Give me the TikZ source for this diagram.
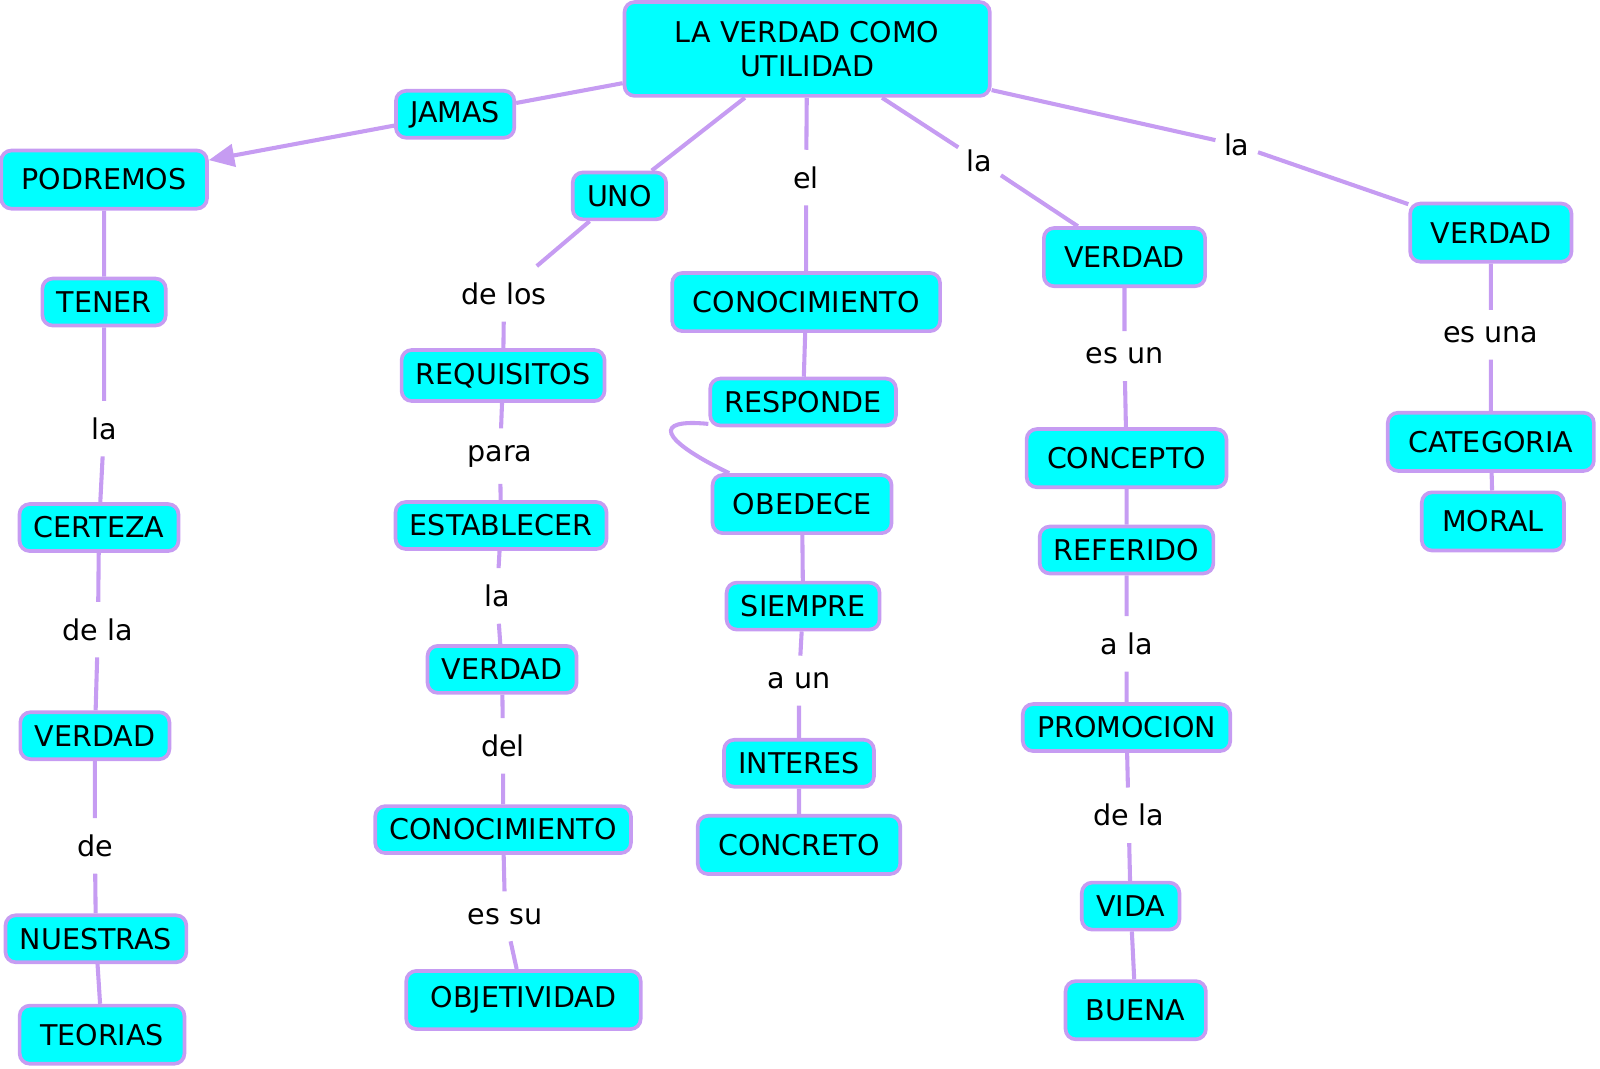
\documentclass[tikz,border=0pt]{standalone}
\usepackage{fontspec}
\setmainfont{DejaVu Sans}
\usetikzlibrary{arrows.meta}
\definecolor{lila}{HTML}{C69CF2}
\definecolor{cian}{HTML}{00FFFF}
\begin{document}
\begin{tikzpicture}[x=0.5pt,y=-0.5pt,
  concepto/.style={draw=lila,line width=1.8pt,fill=cian,rounded corners=5pt,inner xsep=7pt,inner ysep=2pt,minimum height=23pt,font=\fontsize{14}{17}\selectfont},
  alto/.style={minimum height=28.5pt,inner xsep=10pt},
  enlace/.style={inner xsep=4pt,inner ysep=8pt,font=\fontsize{14}{17}\selectfont},
  linea/.style={draw=lila,line width=2pt}]
\useasboundingbox (0,0) rectangle (1568,1047);
\node[concepto,minimum width=179pt,minimum height=46pt,align=center] (main) at (791,48) {LA VERDAD COMO\\UTILIDAD};
\node[concepto] (jamas) at (446,112) {JAMAS};
% columna 1
\node[concepto,alto] (podremos) at (102,176) {PODREMOS};
\node[concepto] (tener) at (102,296) {TENER};
\node[enlace] (la1) at (102,420) {la};
\node[concepto] (certeza) at (97,517) {CERTEZA};
\node[enlace] (dela1) at (96,617) {de la};
\node[concepto] (verdad1) at (93,721) {VERDAD};
\node[enlace] (de1) at (93,829) {de};
\node[concepto] (nuestras) at (94,920) {NUESTRAS};
\node[concepto,alto] (teorias) at (100,1014) {TEORIAS};
% columna 2
\node[concepto] (uno) at (607,192) {UNO};
\node[enlace] (delos) at (494,288) {de los};
\node[concepto,minimum height=25pt] (requisitos) at (493,368) {REQUISITOS};
\node[enlace] (para) at (490,447) {para};
\node[concepto] (establecer) at (491,515) {ESTABLECER};
\node[enlace] (la2) at (487,584) {la};
\node[concepto] (verdad2) at (492,656) {VERDAD};
\node[enlace] (del) at (493,731) {del};
\node[concepto] (conoc2) at (493,813) {CONOCIMIENTO};
\node[enlace] (essu) at (495,898) {es su};
\node[concepto,alto,inner xsep=12pt] (objetividad) at (513,980) {OBJETIVIDAD};
% columna 3
\node[enlace] (el) at (790,174) {el};
\node[concepto,alto] (conoc3) at (790,296) {CONOCIMIENTO};
\node[concepto] (responde) at (787,394) {RESPONDE};
\node[concepto,alto] (obedece) at (786,494) {OBEDECE};
\node[concepto] (siempre) at (787,594) {SIEMPRE};
\node[enlace] (aun) at (783,667) {a un};
\node[concepto] (interes) at (783,748) {INTERES};
\node[concepto,alto] (concreto) at (783,828) {CONCRETO};
% columna 4
\node[enlace] (la3) at (960,158) {la};
\node[concepto,alto] (verdad3) at (1102,252) {VERDAD};
\node[enlace] (esun) at (1102,349) {es un};
\node[concepto,alto] (concepto) at (1104,449) {CONCEPTO};
\node[concepto] (referido) at (1104,539) {REFERIDO};
\node[enlace] (ala) at (1104,631) {a la};
\node[concepto] (promocion) at (1104,713) {PROMOCION};
\node[enlace] (dela2) at (1106,799) {de la};
\node[concepto] (vida) at (1108,888) {VIDA};
\node[concepto,alto] (buena) at (1113,990) {BUENA};
% columna 5
\node[enlace] (la4) at (1212,142) {la};
\node[concepto,alto] (verdad4) at (1461,228) {VERDAD};
\node[enlace] (esuna) at (1461,328) {es una};
\node[concepto,alto] (categoria) at (1461,433) {CATEGORIA};
\node[concepto,alto] (moral) at (1463,511) {MORAL};
% conexiones
\draw[linea] (main) -- (jamas);
\draw[linea,-{Triangle[length=12.5pt,width=11pt]}] (jamas) -- (podremos);
\draw[linea] (podremos) -- (tener) (tener) -- (la1) (la1) -- (certeza) (certeza) -- (dela1) (dela1) -- (verdad1) (verdad1) -- (de1) (de1) -- (nuestras) (nuestras) -- (teorias);
\draw[linea] (main) -- (uno) (uno) -- (delos) (delos) -- (requisitos) (requisitos) -- (para) (para) -- (establecer) (establecer) -- (la2) (la2) -- (verdad2) (verdad2) -- (del) (del) -- (conoc2) (conoc2) -- (essu) (essu) -- (objetividad);
\draw[linea] (main) -- (el) (el) -- (conoc3) (conoc3) -- (responde) (obedece) -- (siempre) (siempre) -- (aun) (aun) -- (interes) (interes) -- (concreto);
\draw[linea] (responde.193) .. controls (640,410) and (645,430) .. (obedece.157);
\draw[linea] (main) -- (la3) (la3) -- (verdad3) (verdad3) -- (esun) (esun) -- (concepto) (concepto) -- (referido) (referido) -- (ala) (ala) -- (promocion) (promocion) -- (dela2) (dela2) -- (vida) (vida) -- (buena);
\draw[linea] (main) -- (la4) (la4) -- (verdad4) (verdad4) -- (esuna) (esuna) -- (categoria) (categoria) -- (moral);
\end{tikzpicture}
\end{document}
